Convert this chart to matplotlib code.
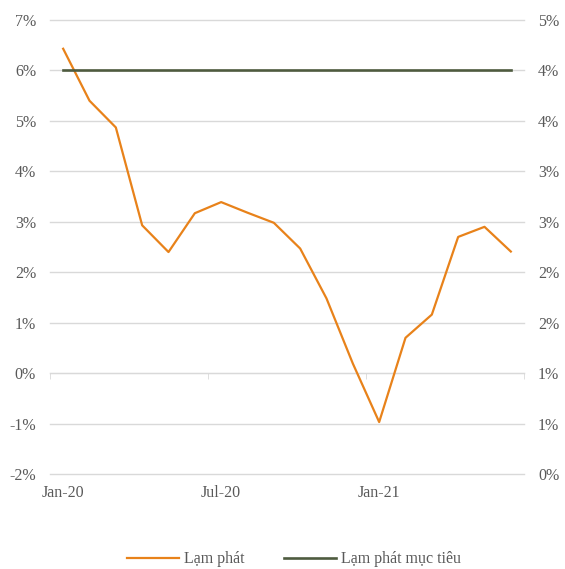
import numpy as np
import matplotlib.pyplot as plt
from matplotlib.ticker import FuncFormatter, FixedLocator

plt.rcParams['font.family'] = ['Liberation Serif', 'DejaVu Serif']

months = ['Jan-20', 'Feb-20', 'Mar-20', 'Apr-20', 'May-20', 'Jun-20',
          'Jul-20', 'Aug-20', 'Sep-20', 'Oct-20', 'Nov-20', 'Dec-20',
          'Jan-21', 'Feb-21', 'Mar-21', 'Apr-21', 'May-21', 'Jun-21']
inflation = [6.43, 5.40, 4.87, 2.93, 2.40, 3.17, 3.39, 3.18, 2.98, 2.47,
             1.48, 0.19, -0.97, 0.70, 1.16, 2.70, 2.90, 2.41]
target = [4.0] * len(months)

text_col = '#595959'
grid_col = '#D9D9D9'
orange = '#E8821A'
green = '#4E5B3F'

x = np.arange(len(months))

fig = plt.figure(figsize=(5.65, 5.69), dpi=100)
ax = fig.add_axes([50 / 565, 95 / 569, 474 / 565, 454 / 569])
ax2 = ax.twinx()

l1, = ax.plot(x, inflation, color=orange, lw=1.6, label='Lạm phát', zorder=3)
l2, = ax2.plot(x, target, color=green, lw=1.9, label='Lạm phát mục tiêu', zorder=3)

ax.set_xlim(-0.5, len(months) - 0.5)
ax.set_ylim(-2, 7)
ax.set_yticks(range(-2, 8))
ax.yaxis.set_major_formatter(FuncFormatter(lambda v, p: f'{v:.0f}%'))
ax.grid(axis='y', color=grid_col, lw=1)
for gl in ax.get_ygridlines():
    gl.set_clip_on(False)
ax.set_axisbelow(True)

ax2.set_ylim(0, 4.5)
ax2.set_yticks(np.arange(0, 4.51, 0.5))
ax2.yaxis.set_major_formatter(FuncFormatter(lambda v, p: f'{int(v + 0.5)}%'))

for a in (ax, ax2):
    for s in ['top', 'left', 'right']:
        a.spines[s].set_visible(False)
    a.tick_params(axis='y', length=0, labelsize=11.5, labelcolor=text_col, pad=10)
ax2.spines['bottom'].set_visible(False)

# category axis crosses at 0%
ax.spines['bottom'].set_position(('data', 0))
ax.spines['bottom'].set_color(grid_col)
ax.xaxis.set_major_locator(FixedLocator([]))
ax.xaxis.set_minor_locator(FixedLocator(np.arange(-0.5, len(months), 6)))
ax.tick_params(axis='x', which='minor', length=4, color=grid_col)

# labels at the bottom of the plot area
sec = ax.secondary_xaxis(0.0)
sec.set_xticks(x[::6])
sec.set_xticklabels(months[::6])
sec.tick_params(length=0, labelsize=11.5, labelcolor=text_col, pad=8)
sec.spines['bottom'].set_visible(False)

fig.legend(handles=[l1, l2], loc='center', bbox_to_anchor=(0.52, 0.017),
           ncol=2, frameon=False, fontsize=11.5, labelcolor=text_col,
           handlelength=3.25, handletextpad=0.3, columnspacing=2.5)

fig.savefig('out.png', dpi=100)
